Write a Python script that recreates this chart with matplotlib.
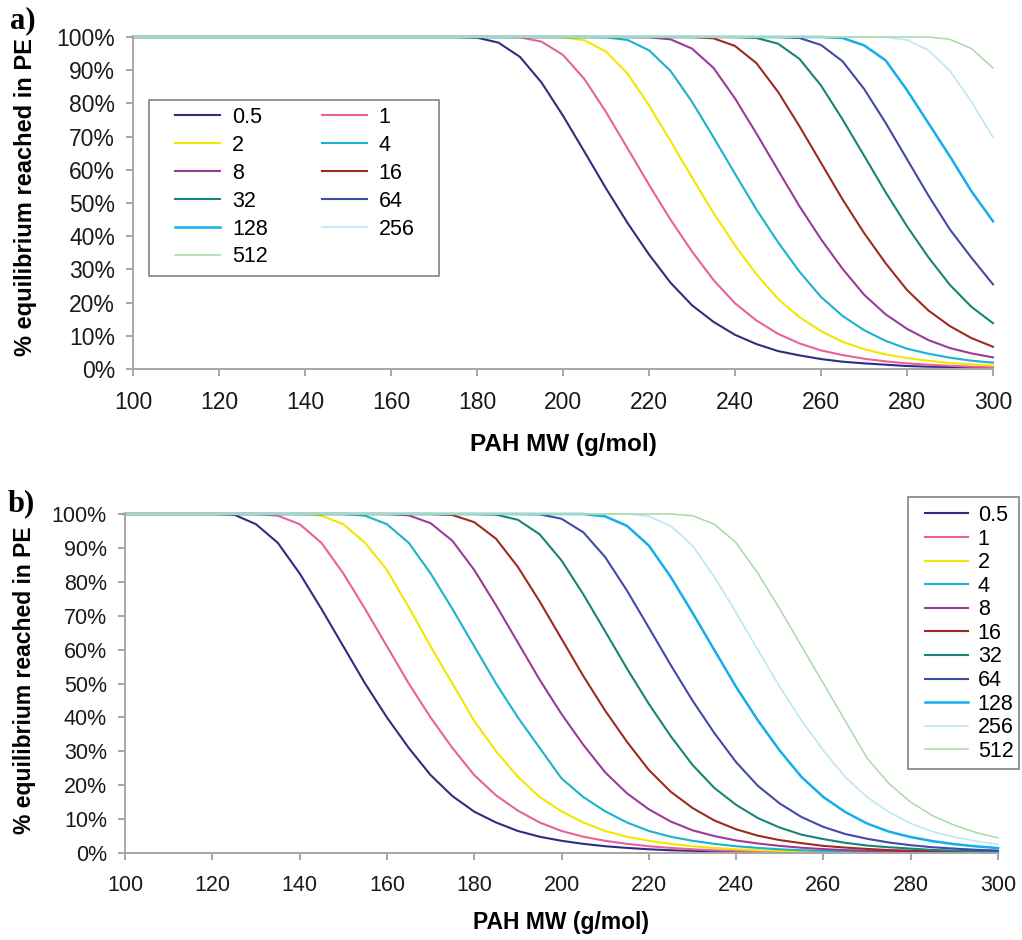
import matplotlib
matplotlib.use("Agg")
from matplotlib import pyplot as plt
from matplotlib.patches import Rectangle
from matplotlib.ticker import FuncFormatter

plt.rcParams['font.family'] = ['Liberation Sans', 'DejaVu Sans']

# PAH molecular weight grid (g/mol), shared by every curve
MW = list(range(100, 305, 5))

LABELS = ["0.5", "1", "2", "4", "8", "16", "32", "64", "128", "256", "512"]
COLORS = ["#2E2D82", "#E8619E", "#F3E600", "#1BB2CF", "#9B3B96", "#9E2A22",
          "#168478", "#4249A6", "#14AEEA", "#BFE6F4", "#A9D9A6"]
WIDTHS = [1.5, 1.5, 1.5, 1.5, 1.5, 1.5, 1.5, 1.5, 1.8, 1.2, 1.1]

# panel a) % equilibrium reached in PE
A_05 = [100, 100, 100, 100, 100, 100, 100, 100, 100, 100, 100, 100, 100, 100, 100, 100,
        99.8, 98.3, 94.0, 86.3, 76.3, 65.4, 54.4, 44.0, 34.5, 26.0, 19.2, 14.2, 10.3,
        7.5, 5.4, 4.1, 3.0, 2.2, 1.7, 1.3, 0.9, 0.7, 0.6, 0.5, 0.4]
A_1 = [100, 100, 100, 100, 100, 100, 100, 100, 100, 100, 100, 100, 100, 100, 100, 100,
       100, 100, 99.9, 98.6, 94.6, 87.3, 77.4, 66.5, 55.5, 45.0, 35.4, 26.8, 19.8, 14.6,
       10.6, 7.7, 5.6, 4.2, 3.1, 2.3, 1.7, 1.3, 0.95, 0.7, 0.6]
A_2 = [100, 100, 100, 100, 100, 100, 100, 100, 100, 100, 100, 100, 100, 100, 100, 100,
       100, 100, 100, 100, 99.9, 99.0, 95.6, 89.0, 79.4, 68.7, 57.7, 47.0, 37.2, 28.5,
       21.1, 15.6, 11.4, 8.2, 6.0, 4.4, 3.3, 2.5, 1.8, 1.4, 1.0]
A_4 = [100, 100, 100, 100, 100, 100, 100, 100, 100, 100, 100, 100, 100, 100, 100, 100,
       100, 100, 100, 100, 100, 100, 99.9, 99.1, 96.0, 89.8, 80.5, 69.8, 58.8, 48.0,
       38.2, 29.3, 21.7, 16.0, 11.7, 8.5, 6.1, 4.6, 3.4, 2.5, 1.9]
A_8 = [100, 100, 100, 100, 100, 100, 100, 100, 100, 100, 100, 100, 100, 100, 100, 100,
       100, 100, 100, 100, 100, 100, 100, 100, 99.9, 99.3, 96.5, 90.7, 81.5, 70.9,
       59.9, 49.0, 39.1, 30.2, 22.4, 16.5, 12.1, 8.7, 6.3, 4.7, 3.5]
A_16 = [100, 100, 100, 100, 100, 100, 100, 100, 100, 100, 100, 100, 100, 100, 100, 100,
        100, 100, 100, 100, 100, 100, 100, 100, 100, 100, 100, 99.6, 97.3, 92.1,
        83.5, 73.1, 62.1, 51.1, 41.0, 31.9, 23.8, 17.6, 12.9, 9.3, 6.7]
A_32 = [100, 100, 100, 100, 100, 100, 100, 100, 100, 100, 100, 100, 100, 100, 100, 100,
        100, 100, 100, 100, 100, 100, 100, 100, 100, 100, 100, 100, 100, 99.7,
        98.0, 93.4, 85.4, 75.2, 64.3, 53.3, 43.0, 33.6, 25.3, 18.7, 13.8]
A_64 = [100, 100, 100, 100, 100, 100, 100, 100, 100, 100, 100, 100, 100, 100, 100, 100,
        100, 100, 100, 100, 100, 100, 100, 100, 100, 100, 100, 100, 100, 100,
        100, 99.7, 97.6, 92.7, 84.4, 74.2, 63.2, 52.2, 42.0, 33.5, 25.5]
A_128 = [100, 100, 100, 100, 100, 100, 100, 100, 100, 100, 100, 100, 100, 100, 100, 100,
         100, 100, 100, 100, 100, 100, 100, 100, 100, 100, 100, 100, 100, 100,
         100, 100, 100, 99.7, 97.5, 93.0, 84.0, 74.0, 64.0, 53.5, 44.5]
A_256 = [100, 100, 100, 100, 100, 100, 100, 100, 100, 100, 100, 100, 100, 100, 100, 100,
         100, 100, 100, 100, 100, 100, 100, 100, 100, 100, 100, 100, 100, 100,
         100, 100, 100, 100, 100, 99.9, 99.1, 96.0, 89.8, 80.5, 69.8]
A_512 = [100, 100, 100, 100, 100, 100, 100, 100, 100, 100, 100, 100, 100, 100, 100, 100,
         100, 100, 100, 100, 100, 100, 100, 100, 100, 100, 100, 100, 100, 100,
         100, 100, 100, 100, 100, 100, 100, 100, 99.3, 96.5, 90.7]

# panel b)
B_05 = [100, 100, 100, 100, 100, 99.8, 97.0, 91.5, 82.5, 72.0, 61.0, 50.0, 40.0, 31.0,
        23.0, 16.8, 12.2, 9.0, 6.5, 4.8, 3.6, 2.7, 2.0, 1.5, 1.1, 0.8, 0.65, 0.5, 0.4,
        0.3, 0.25, 0.2, 0.15, 0.15, 0.1, 0.1, 0.1, 0.1, 0.1, 0.1, 0.1]
B_1 = [100, 100, 100, 100, 100, 100, 100, 99.5, 97.0, 91.5, 82.5, 72.0, 61.0, 50.0,
       40.0, 31.0, 23.0, 17.0, 12.5, 9.0, 6.5, 4.8, 3.6, 2.7, 2.0, 1.5, 1.1, 0.8, 0.65,
       0.5, 0.4, 0.3, 0.25, 0.2, 0.15, 0.15, 0.1, 0.1, 0.1, 0.1, 0.1]
B_2 = [100, 100, 100, 100, 100, 100, 100, 100, 100, 99.5, 97.0, 91.5, 83.5, 72.5,
       61.0, 50.0, 39.0, 30.0, 22.5, 16.5, 12.3, 9.0, 6.5, 4.8, 3.6, 2.7, 2.0, 1.5, 1.1,
       0.8, 0.65, 0.5, 0.4, 0.3, 0.25, 0.2, 0.15, 0.15, 0.1, 0.1, 0.1]
B_4 = [100, 100, 100, 100, 100, 100, 100, 100, 100, 100, 100, 99.5, 97.0, 91.5,
       82.5, 72.0, 61.0, 50.0, 40.0, 31.0, 22.0, 16.5, 12.3, 9.0, 6.5, 4.8, 3.6, 2.7,
       2.0, 1.5, 1.1, 0.8, 0.65, 0.5, 0.4, 0.3, 0.25, 0.2, 0.15, 0.15, 0.1]
B_8 = [100, 100, 100, 100, 100, 100, 100, 100, 100, 100, 100, 100, 100, 99.6,
       97.3, 92.1, 83.5, 73.1, 62.1, 51.1, 41.0, 31.9, 23.8, 17.6, 12.9, 9.3, 6.7, 5.0,
       3.7, 2.8, 2.1, 1.55, 1.15, 0.85, 0.65, 0.5, 0.4, 0.3, 0.25, 0.2, 0.2]
B_16 = [100, 100, 100, 100, 100, 100, 100, 100, 100, 100, 100, 100, 100, 100,
        100, 99.7, 97.6, 92.7, 84.4, 74.2, 63.2, 52.2, 42.0, 32.8, 24.5, 18.1, 13.3,
        9.6, 7.0, 5.1, 3.8, 2.9, 2.1, 1.6, 1.2, 0.86, 0.68, 0.53, 0.42, 0.32, 0.26]
B_32 = [100, 100, 100, 100, 100, 100, 100, 100, 100, 100, 100, 100, 100, 100,
        100, 100, 100, 99.8, 98.3, 94.0, 86.3, 76.3, 65.4, 54.4, 44.0, 34.5, 26.0,
        19.2, 14.2, 10.3, 7.5, 5.4, 4.1, 3.0, 2.2, 1.7, 1.3, 0.9, 0.7, 0.56, 0.45]
B_64 = [100, 100, 100, 100, 100, 100, 100, 100, 100, 100, 100, 100, 100, 100,
        100, 100, 100, 100, 100, 99.9, 98.6, 94.6, 87.3, 77.4, 66.5, 55.5, 45.0,
        35.4, 26.8, 19.8, 14.6, 10.6, 7.7, 5.6, 4.2, 3.1, 2.3, 1.7, 1.3, 0.95, 0.72]
B_128 = [100, 100, 100, 100, 100, 100, 100, 100, 100, 100, 100, 100, 100, 100,
         100, 100, 100, 100, 100, 100, 100, 100, 99.3, 96.5, 90.7, 81.5, 70.9, 59.9,
         49.0, 39.1, 30.2, 22.4, 16.5, 12.1, 8.7, 6.3, 4.7, 3.5, 2.6, 1.95, 1.45]
B_256 = [100, 100, 100, 100, 100, 100, 100, 100, 100, 100, 100, 100, 100, 100,
         100, 100, 100, 100, 100, 100, 100, 100, 100, 100, 99.3, 96.5, 90.7, 81.5,
         70.9, 59.9, 49.0, 39.1, 30.2, 22.4, 16.5, 12.1, 8.7, 6.3, 4.7, 3.5, 2.6]
B_512 = [100, 100, 100, 100, 100, 100, 100, 100, 100, 100, 100, 100, 100, 100,
         100, 100, 100, 100, 100, 100, 100, 100, 100, 100, 100, 100, 99.5, 97.0,
         91.5, 82.5, 72.0, 61.0, 50.0, 39.0, 28.0, 20.5, 15.0, 11.0, 8.2, 6.0, 4.5]

PANEL_A = [A_05, A_1, A_2, A_4, A_8, A_16, A_32, A_64, A_128, A_256, A_512]
PANEL_B = [B_05, B_1, B_2, B_4, B_8, B_16, B_32, B_64, B_128, B_256, B_512]

W, H = 1022, 940
GRAY = "#a6a6a6"
FRAME = "#8c8c8c"


def draw_panel(ax, curves, tick_size):
    for y, lab, col, lw in zip(curves, LABELS, COLORS, WIDTHS):
        ax.plot(MW, y, color=col, lw=lw, label=lab, clip_on=False)
    ax.set_xlim(100, 300)
    ax.set_ylim(0, 100)
    ax.set_xticks(range(100, 301, 20))
    ax.set_yticks(range(0, 101, 10))
    ax.yaxis.set_major_formatter(FuncFormatter(lambda v, p: f"{v:.0f}%"))
    for s in ("top", "right"):
        ax.spines[s].set_visible(False)
    for s in ("left", "bottom"):
        ax.spines[s].set_color(GRAY)
        ax.spines[s].set_linewidth(1.4)
    ax.tick_params(length=5, width=1.4, color=GRAY, labelsize=tick_size, labelcolor="#1a1a1a")
    ax.tick_params(axis="x", pad=11)
    ax.tick_params(axis="y", pad=8)


def legend_box(ax, fig, x0, y0, x1, y1):
    # legend frame drawn by hand so the insets match the original
    rect = Rectangle((x0 / W, 1 - y1 / H), (x1 - x0) / W, (y1 - y0) / H, transform=fig.transFigure,
                     facecolor="white", edgecolor=FRAME, lw=1.3, zorder=4.5, clip_on=False)
    ax.add_artist(rect)


def main() -> None:
    fig = plt.figure(figsize=(W / 100, H / 100), dpi=100)

    ax_a = fig.add_axes([133 / W, 1 - 369 / H, 860 / W, 332 / H])
    ax_b = fig.add_axes([125 / W, 1 - 853 / H, 873 / W, 339 / H])
    draw_panel(ax_a, PANEL_A, 16.5)
    draw_panel(ax_b, PANEL_B, 15.5)

    # a) legend is two columns filled row by row
    handles, labels = ax_a.get_legend_handles_labels()
    order = [0, 2, 4, 6, 8, 10, 1, 3, 5, 7, 9]
    legend_box(ax_a, fig, 149, 100, 439, 276)
    ax_a.legend([handles[i] for i in order], [labels[i] for i in order], ncol=2,
                loc="upper left", bbox_to_anchor=(175 / W, 1 - 107 / H), bbox_transform=fig.transFigure,
                borderaxespad=0, borderpad=0, fontsize=15.5, labelspacing=0.32, handlelength=2.1,
                handletextpad=0.55, columnspacing=2.5, frameon=False)
    legend_box(ax_b, fig, 908, 497, 1019, 769)
    ax_b.legend(loc="upper left", bbox_to_anchor=(925 / W, 1 - 505 / H), bbox_transform=fig.transFigure,
                borderaxespad=0, borderpad=0, fontsize=15.5, labelspacing=0.12, handlelength=2.0,
                handletextpad=0.45, frameon=False)

    fig.text(26 / W, 1 - 197 / H, "% equilibrium reached in PE", rotation=90, ha="center", va="center",
             fontsize=17, fontweight="bold")
    fig.text(25 / W, 1 - 680 / H, "% equilibrium reached in PE", rotation=90, ha="center", va="center",
             fontsize=16.5, fontweight="bold")
    fig.text(563 / W, 1 - 445 / H, "PAH MW (g/mol)", ha="center", va="center", fontsize=17.5, fontweight="bold")
    fig.text(561 / W, 1 - 922 / H, "PAH MW (g/mol)", ha="center", va="center", fontsize=16.5, fontweight="bold")

    fig.text(10 / W, 1 - 28 / H, "a)", ha="left", va="baseline", fontsize=22, fontweight="bold",
             family=["Liberation Serif", "DejaVu Serif"])
    fig.text(8 / W, 1 - 511 / H, "b)", ha="left", va="baseline", fontsize=22, fontweight="bold",
             family=["Liberation Serif", "DejaVu Serif"])

    fig.savefig("out.png", dpi=100)


if __name__ == '__main__':
    main()
